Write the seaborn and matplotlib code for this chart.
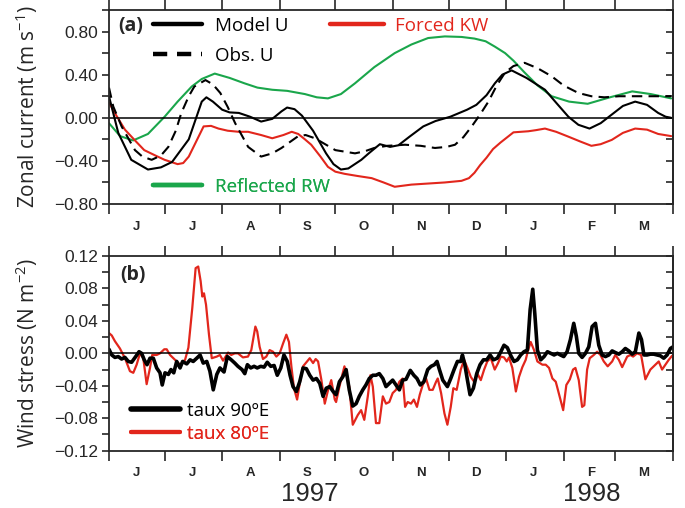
import pandas as pd
import matplotlib
matplotlib.use("Agg")
import matplotlib.pyplot as plt
import matplotlib.dates as mdates
from matplotlib.ticker import MultipleLocator, FuncFormatter
from matplotlib.lines import Line2D
import seaborn as sns

# ---- data (days counted from 1 June 1997) ----
start = pd.Timestamp("1997-06-01")

model_day = [0, 5, 12, 21, 28, 34, 43, 47, 50, 52.5, 56, 61, 65, 70, 76, 82, 88, 93, 96, 100,
             104, 110, 117, 121, 125, 129, 136, 140, 146, 151.5, 156, 162, 169.4, 176, 184, 193,
             198, 203.5, 208, 212, 217, 225, 235, 241, 247.6, 253, 259, 265, 271, 277, 283.6,
             290, 296, 300, 303]
model_u = [0.20, -0.14, -0.39, -0.48, -0.46, -0.41, -0.20, 0.0, 0.15, 0.19, 0.15, 0.075, 0.05,
           0.045, 0.01, -0.035, -0.01, 0.06, 0.095, 0.08, 0.02, -0.12, -0.33, -0.43, -0.48, -0.47,
           -0.39, -0.33, -0.245, -0.27, -0.255, -0.175, -0.08, -0.03, 0.01, 0.075, 0.12, 0.21,
           0.32, 0.40, 0.44, 0.37, 0.26, 0.14, 0.01, -0.065, -0.10, -0.05, 0.03, 0.11, 0.15,
           0.12, 0.045, 0.01, 0.0]

obs_day = [0, 2.3, 6.8, 14, 18, 23, 28, 32, 36, 39, 43, 46, 52, 56, 60, 64, 68, 75, 82, 88, 93,
           102, 106, 111, 116, 122, 132.6, 138, 143, 150, 159.6, 168, 175.7, 182, 186.5, 191,
           195.5, 200, 204.5, 209, 213.5, 218, 224, 231, 238.6, 245, 253, 260, 267, 275, 283.6,
           293, 303]
obs_u = [0.28, 0.105, -0.08, -0.30, -0.36, -0.39, -0.35, -0.27, -0.12, 0.045, 0.20, 0.29, 0.35,
         0.31, 0.23, 0.10, -0.05, -0.27, -0.36, -0.33, -0.28, -0.17, -0.16, -0.19, -0.24, -0.30,
         -0.33, -0.31, -0.28, -0.26, -0.25, -0.26, -0.28, -0.27, -0.25, -0.18, -0.08, 0.03, 0.15,
         0.30, 0.42, 0.48, 0.51, 0.46, 0.385, 0.30, 0.23, 0.20, 0.19, 0.20, 0.20, 0.20, 0.20]

kw_day = [0, 4, 8.6, 14, 19, 25, 30, 37, 40, 43, 47, 51, 55, 59, 64, 70, 75, 82, 88, 94, 98.5,
          102, 105.6, 109, 114, 118, 122, 127, 134, 141.6, 148, 154, 163, 172, 181, 190, 194,
          197, 200, 203.5, 207, 211, 218, 226, 230, 235, 241, 247.6, 254, 260, 265, 271, 277,
          283.6, 290, 296, 303]
forced_kw = [0.14, 0.02, -0.11, -0.21, -0.30, -0.35, -0.39, -0.43, -0.42, -0.36, -0.22, -0.08,
             -0.075, -0.10, -0.12, -0.13, -0.13, -0.16, -0.19, -0.16, -0.13, -0.15, -0.20, -0.25,
             -0.36, -0.455, -0.50, -0.52, -0.54, -0.56, -0.60, -0.64, -0.62, -0.61, -0.60, -0.585,
             -0.56, -0.51, -0.44, -0.37, -0.29, -0.23, -0.135, -0.125, -0.115, -0.10, -0.13,
             -0.175, -0.22, -0.26, -0.245, -0.205, -0.14, -0.10, -0.11, -0.15, -0.17]

rw_day = [0, 6, 13, 21, 30, 37, 44.6, 50, 57, 65, 73, 80, 88, 96, 105.6, 112, 118, 125, 132.6,
          143, 154, 163, 172, 181, 190, 197, 203, 208, 213.5, 218, 224, 231, 238.6, 248, 258,
          270, 282, 292, 303]
reflected_rw = [-0.05, -0.17, -0.21, -0.15, 0.01, 0.15, 0.29, 0.36, 0.41, 0.37, 0.32, 0.28, 0.26,
                0.25, 0.22, 0.19, 0.18, 0.22, 0.32, 0.47, 0.60, 0.68, 0.74, 0.755, 0.75, 0.735,
                0.71, 0.66, 0.60, 0.53, 0.42, 0.30, 0.20, 0.15, 0.13, 0.19, 0.245, 0.22, 0.18]

t90_day = [0, 1.5, 3.2, 5.0, 6.8, 8.6, 10.4, 12.2, 14.4, 16.2, 17.6, 19.0, 20.5, 22.1, 23.9, 25.7,
           27.5, 28.7, 30.2, 32.0, 33.4, 34.9, 36.5, 38.3, 39.7, 41.9, 43.7, 45.4, 47.3, 49.1,
           50.8, 52.7, 54.4, 56.2, 58.1, 59.8, 62.0, 63.8, 65.9, 67.8, 69.5, 71.7, 73.2, 74.6,
           76.4, 78.2, 79.9, 81.8, 83.6, 85.3, 87.2, 89.0, 90.7, 92.6, 94.3, 96.1, 97.6, 99.2,
           101.0, 102.8, 104.6, 106.4, 108.2, 110.0, 111.8, 113.6, 115.4, 117.1, 119.0, 120.8,
           122.4, 124.2, 126.0, 127.8, 129.5, 131.4, 133.2, 134.9, 136.8, 138.5, 140.3, 142.2,
           143.9, 145.7, 147.6, 149.3, 151.1, 152.9, 154.7, 156.5, 158.3, 160.1, 162.4, 164.3,
           166.0, 167.8, 169.7, 171.8, 173.6, 175.4, 176.8, 178.1, 179.9, 182.4, 184.2, 186.0,
           187.8, 189.6, 190.5, 191.8, 193.2, 194.6, 196.4, 198.2, 200.0, 201.8, 203.6, 205.4,
           207.2, 209.3, 211.2, 212.9, 214.7, 216.6, 218.3, 220.1, 221.9, 223.7, 225.5, 227.0,
           228.4, 229.5, 230.9, 232.7, 234.5, 236.3, 238.1, 239.9, 241.7, 243.3, 245.1, 246.9,
           248.7, 250.5, 251.9, 253.2, 255.0, 256.8, 258.6, 260.4, 262.2, 264.0, 265.8, 267.6,
           269.4, 271.2, 272.9, 274.8, 276.6, 278.3, 280.2, 282.0, 283.7, 285.6, 287.0, 288.3,
           290.0, 291.8, 293.6, 295.4, 297.2, 299.0, 300.8, 302.6, 304.0]
taux_90e = [0.005, -0.002, -0.005, -0.004, -0.007, -0.005, -0.010, -0.011, -0.004, 0.002, 0.000,
            -0.008, -0.014, -0.006, -0.006, -0.018, -0.024, -0.039, -0.024, -0.026, -0.020,
            -0.024, -0.010, -0.018, -0.010, -0.013, -0.008, -0.010, -0.006, -0.002, -0.012,
            -0.010, -0.022, -0.045, -0.026, -0.018, -0.023, -0.004, -0.008, -0.012, -0.016,
            -0.020, -0.025, -0.014, -0.018, -0.016, -0.018, -0.016, -0.017, -0.011, -0.016,
            -0.015, -0.027, -0.018, -0.002, -0.010, -0.027, -0.041, -0.047, -0.035, -0.018,
            -0.019, -0.027, -0.033, -0.031, -0.037, -0.053, -0.043, -0.041, -0.047, -0.051,
            -0.035, -0.029, -0.020, -0.045, -0.065, -0.062, -0.053, -0.045, -0.039, -0.031,
            -0.027, -0.027, -0.025, -0.031, -0.041, -0.037, -0.033, -0.039, -0.045, -0.033,
            -0.032, -0.021, -0.027, -0.031, -0.039, -0.035, -0.020, -0.016, -0.014, -0.010,
            -0.020, -0.033, -0.041, -0.031, -0.020, -0.010, -0.010, -0.002, -0.014, -0.033,
            -0.051, -0.043, -0.025, -0.014, -0.008, -0.008, -0.002, -0.008, -0.006, 0.002, 0.010,
            0.007, -0.003, -0.010, -0.008, -0.002, 0.002, 0.004, 0.054, 0.079, 0.049, 0.004,
            -0.008, -0.004, 0.002, 0.000, -0.002, 0.000, -0.002, -0.004, 0.002, 0.017, 0.037,
            0.021, 0.000, -0.005, 0.000, 0.008, 0.033, 0.037, 0.010, -0.002, -0.004, -0.002,
            0.003, 0.001, -0.001, 0.002, 0.006, 0.003, -0.001, 0.002, 0.025, 0.017, -0.002,
            -0.002, -0.001, -0.001, -0.002, -0.003, -0.006, -0.002, 0.006, 0.008]

t80_day = [0, 1.5, 3.2, 5.9, 8.6, 11.3, 13.1, 14.9, 16.7, 18.5, 20.3, 22.1, 23.3, 25.7, 27.5,
           29.8, 31.1, 32.9, 35.6, 38.3, 41.0, 42.8, 44.9, 46.7, 48.1, 49.4, 50.3, 51.2, 52.3,
           53.9, 55.4, 58.1, 59.8, 61.5, 64.2, 65.9, 67.8, 69.5, 72.2, 74.9, 76.7, 78.9, 79.9,
           81.2, 83.0, 84.8, 86.6, 88.4, 90.2, 92.0, 93.8, 95.6, 97.0, 98.3, 99.7, 101.4, 102.8,
           104.6, 106.4, 108.2, 110.0, 111.4, 112.7, 114.5, 116.3, 118.1, 119.8, 121.7, 122.4,
           124.2, 126.9, 129.5, 131.4, 134.1, 135.9, 137.6, 139.5, 140.9, 142.2, 143.9, 145.7,
           147.6, 149.3, 151.1, 152.9, 154.7, 156.5, 158.3, 159.6, 161.0, 162.8, 164.3, 166.0,
           167.5, 169.1, 170.9, 172.7, 174.5, 176.3, 177.2, 179.0, 180.8, 182.4, 184.2, 185.6,
           187.4, 189.6, 191.4, 193.2, 195.0, 196.8, 198.6, 200.4, 202.2, 203.9, 205.8, 207.9,
           209.7, 211.2, 212.9, 214.4, 215.6, 217.4, 219.3, 221.0, 222.8, 224.6, 225.9, 227.3,
           229.1, 230.9, 233.6, 235.4, 237.2, 239.0, 240.8, 241.5, 243.3, 244.8, 246.5, 248.4,
           250.1, 251.4, 253.2, 255.0, 256.2, 257.7, 259.1, 261.3, 263.1, 264.9, 266.7, 268.8,
           271.2, 272.9, 274.8, 276.6, 279.3, 281.0, 282.5, 284.6, 286.8, 289.1, 291.8, 294.5,
           296.3, 298.1, 299.9, 301.7, 303.5]
taux_80e = [0.025, 0.022, 0.015, 0.006, -0.006, -0.022, -0.024, -0.014, 0.000, -0.006, -0.038,
            -0.018, -0.002, -0.002, 0.000, 0.005, 0.005, -0.002, -0.008, -0.014, -0.008, 0.007,
            0.056, 0.105, 0.107, 0.089, 0.070, 0.074, 0.060, 0.023, -0.006, -0.004, -0.002,
            -0.009, 0.001, -0.002, 0.000, 0.000, -0.005, -0.004, 0.004, 0.033, 0.027, 0.008,
            -0.007, -0.004, 0.004, 0.002, -0.004, 0.000, 0.012, 0.023, 0.014, -0.016, -0.043,
            -0.057, -0.037, -0.016, -0.011, -0.006, -0.012, -0.007, -0.010, -0.033, -0.062,
            -0.045, -0.033, -0.057, -0.060, -0.041, -0.016, -0.041, -0.088, -0.076, -0.070,
            -0.082, -0.053, -0.027, -0.041, -0.086, -0.086, -0.053, -0.062, -0.060, -0.049,
            -0.045, -0.035, -0.031, -0.066, -0.060, -0.062, -0.057, -0.066, -0.051, -0.039,
            -0.031, -0.045, -0.045, -0.035, -0.031, -0.049, -0.074, -0.088, -0.066, -0.043,
            -0.045, -0.020, -0.008, -0.018, -0.029, -0.035, -0.025, -0.033, -0.020, -0.010,
            -0.006, -0.020, -0.012, -0.004, -0.005, -0.010, -0.005, -0.018, -0.047, -0.029,
            -0.017, -0.008, 0.004, 0.014, 0.004, -0.010, -0.014, -0.014, -0.018, -0.031, -0.035,
            -0.041, -0.057, -0.070, -0.039, -0.032, -0.020, -0.018, -0.033, -0.066, -0.064,
            -0.020, -0.006, -0.002, 0.002, -0.002, -0.010, -0.016, -0.010, -0.002, -0.008,
            -0.017, -0.004, -0.002, -0.004, 0.000, -0.002, -0.032, -0.020, -0.014, -0.010,
            -0.020, -0.014, -0.008, -0.003]

month_letters = ["J", "J", "A", "S", "O", "N", "D", "J", "F", "M"]
years = ["1997", "1998"]

RED = "#e2261c"
GREEN = "#1aa64b"


def frame(days, values):
    return pd.DataFrame({"date": start + pd.to_timedelta(days, unit="D"), "value": values})


# ---- style ----
sns.set_style("ticks")
plt.rcParams["font.family"] = ["Open Sans", "DejaVu Sans"]
plt.rcParams["mathtext.default"] = "regular"
plt.rcParams["axes.linewidth"] = 1.3

fig = plt.figure(figsize=(6.85, 5.08), dpi=100)
ax_a = fig.add_axes([0.1591, 0.5984, 0.8234, 0.3819])
ax_b = fig.add_axes([0.1591, 0.1128, 0.8234, 0.3833])

# panel (a)
sns.lineplot(data=frame(rw_day, reflected_rw), x="date", y="value", ax=ax_a, color=GREEN, lw=1.5)
sns.lineplot(data=frame(kw_day, forced_kw), x="date", y="value", ax=ax_a, color=RED, lw=1.5)
sns.lineplot(data=frame(obs_day, obs_u), x="date", y="value", ax=ax_a, color="black", lw=1.5,
             dashes=False).lines[-1].set_dashes((5, 3))
sns.lineplot(data=frame(model_day, model_u), x="date", y="value", ax=ax_a, color="black", lw=1.5)
ax_a.axhline(0, color="black", lw=1.1)

# panel (b)
sns.lineplot(data=frame(t80_day, taux_80e), x="date", y="value", ax=ax_b, color=RED, lw=1.6)
sns.lineplot(data=frame(t90_day, taux_90e), x="date", y="value", ax=ax_b, color="black", lw=2.6)
ax_b.axhline(0, color="black", lw=1.1)


def num_fmt(step):
    def f(v, pos):
        k = round(v / step)
        if k % 2:
            return ""
        return f"{v:.2f}".replace("-", "\u2212")
    return FuncFormatter(f)


for ax, lim, step in [(ax_a, (-0.8, 1.0), 0.2), (ax_b, (-0.12, 0.12), 0.02)]:
    ax.set_xlim(pd.Timestamp("1997-06-01"), pd.Timestamp("1998-04-01"))
    ax.set_ylim(*lim)
    ax.yaxis.set_major_locator(MultipleLocator(step))
    ax.yaxis.set_major_formatter(num_fmt(step))
    ax.tick_params(axis="y", which="major", direction="out", length=5, width=1.2,
                   labelsize=12.5, pad=3)
    for lab in ax.get_yticklabels():
        lab.set_family("Liberation Sans")
    ax.xaxis.set_major_locator(mdates.MonthLocator())
    ax.xaxis.set_major_formatter(FuncFormatter(lambda v, p: ""))
    ax.xaxis.set_minor_locator(mdates.MonthLocator(bymonthday=16))
    ax.xaxis.set_minor_formatter(
        FuncFormatter(lambda v, p: month_letters[(mdates.num2date(v).month - 6) % 12]))
    ax.tick_params(axis="x", which="major", direction="out", length=7.5, width=1.2,
                   top=True, bottom=True)
    ax.tick_params(axis="x", which="minor", length=0, pad=12, labelsize=9.5)
    for lab in ax.get_xticklabels(minor=True):
        lab.set_fontweight("bold")
        lab.set_family("Liberation Sans")
    ax.set_xlabel("")
    sec = ax.secondary_yaxis("right")
    sec.yaxis.set_major_locator(MultipleLocator(step))
    sec.tick_params(direction="in", length=5, width=1.2, labelright=False)
    sec.spines["right"].set_linewidth(1.3)

ax_a.set_ylabel("Zonal current (m s$^{-1}$)", fontsize=15, labelpad=10)
ax_b.set_ylabel("Wind stress (N m$^{-2}$)", fontsize=15, labelpad=10)

ax_a.text(0.016, 0.917, "(a)", transform=ax_a.transAxes, fontsize=14, fontweight="bold",
          va="center")
ax_b.text(0.02, 0.902, "(b)", transform=ax_b.transAxes, fontsize=14, fontweight="bold",
          va="center")


def key(ax, x, y, label, color, lw=3.2, dashes=None, hl=2.6, gap=0.7):
    h = Line2D([], [], color=color, lw=lw)
    if dashes:
        h.set_dashes(dashes)
    leg = ax.legend([h], [label], loc="center left", bbox_to_anchor=(x, y), frameon=False,
                    borderpad=0, borderaxespad=0, handlelength=hl, handletextpad=gap,
                    fontsize=13.5, labelcolor=color)
    ax.add_artist(leg)


key(ax_a, 0.078, 0.9175, "Model U", "black")
key(ax_a, 0.078, 0.763, "Obs. U", "black", dashes=(3.2, 2.2))
key(ax_a, 0.392, 0.9175, "Forced KW", RED, hl=2.9, gap=0.55)
key(ax_a, 0.078, 0.0876, "Reflected RW", GREEN)
key(ax_b, 0.039, 0.204, "taux 90\u00baE", "black", lw=4, gap=0.4)
key(ax_b, 0.039, 0.086, "taux 80\u00baE", RED, lw=3, gap=0.4)

fig.text(310 / 685, 1 - 494 / 508, years[0], ha="center", va="center", fontsize=18.5,
         family="Liberation Sans")
fig.text(592 / 685, 1 - 494 / 508, years[1], ha="center", va="center", fontsize=18.5,
         family="Liberation Sans")

fig.savefig("out.png", dpi=100)
